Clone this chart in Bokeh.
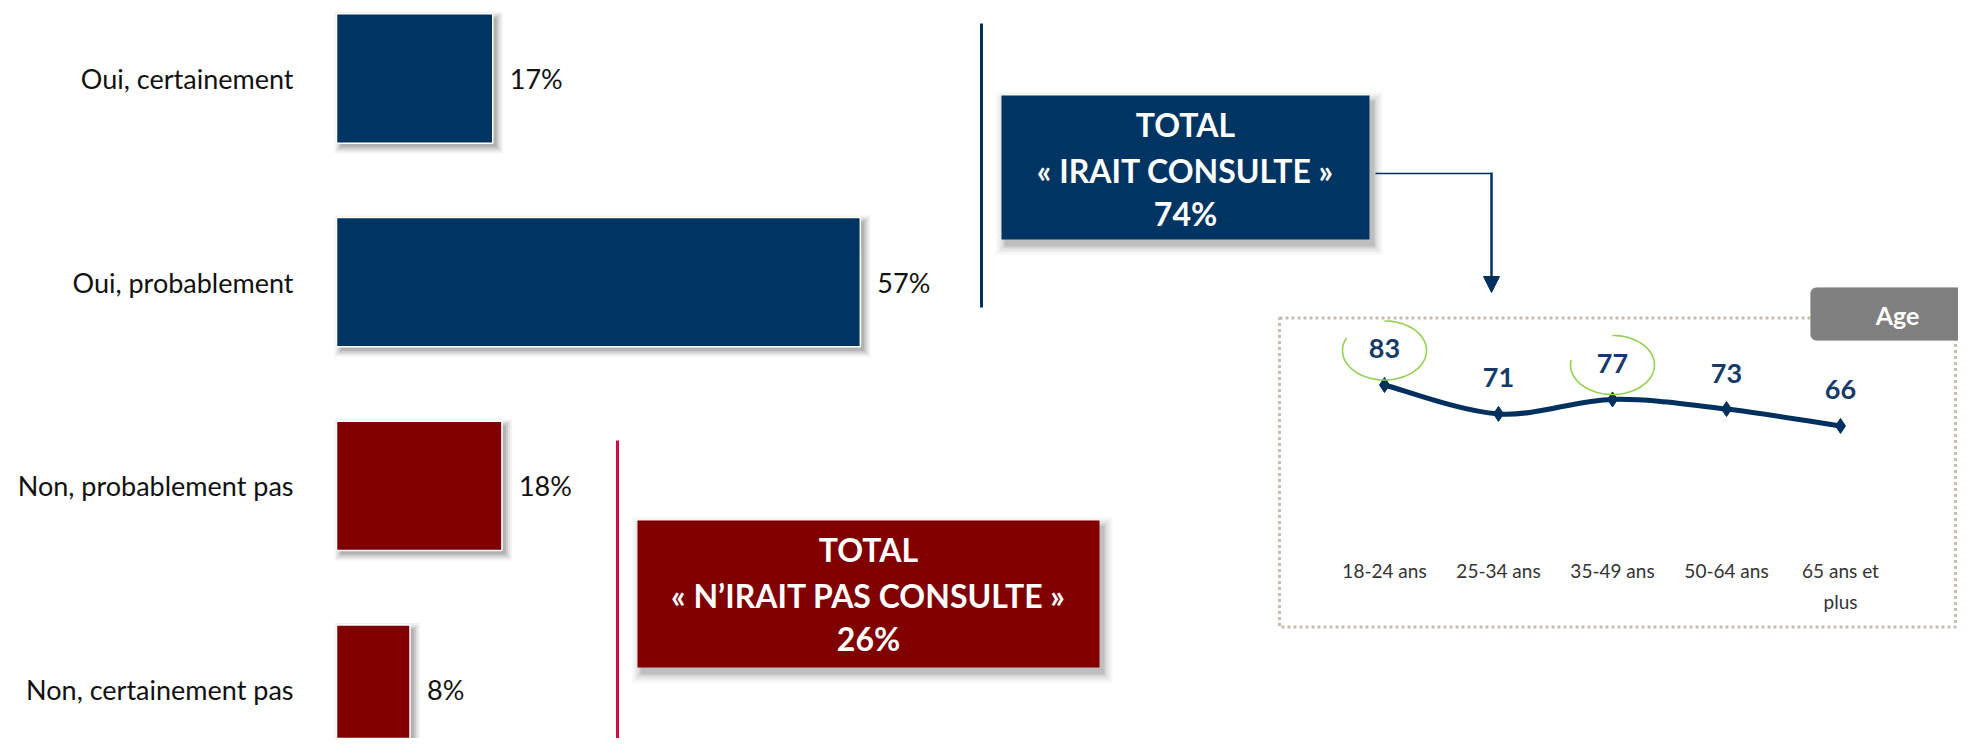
import numpy as np
from bokeh.plotting import figure
from bokeh.models import Range1d, ColumnDataSource, Arrow, NormalHead, BoxAnnotation, Label
from bokeh.core.properties import value
from bokeh.embed import file_html
from bokeh.resources import INLINE

# ---------------- data ----------------
categories = ["Oui, certainement", "Oui, probablement", "Non, probablement pas", "Non, certainement pas"]
shares = [17, 57, 18, 8]
groups = ["oui", "oui", "non", "non"]
total_titles = {"oui": "« IRAIT CONSULTE »", "non": "« N’IRAIT PAS CONSULTE »"}
age_groups = ["18-24 ans", "25-34 ans", "35-49 ans", "50-64 ans", "65 ans et\nplus"]
age_values = [83, 71, 77, 73, 66]
age_highlight = [0, 2]
age_title = "Age"

# ---------------- layout / style ----------------
W, H = 1958, 738
OFF = 0  # main ranges are picture-pixel coordinates
FONT = "Lato"
NAVY = "#003462"
MAROON = "#800000"
CRIMSON = "#C8103C"
LINE_NAVY = "#00305E"
GREEN = "#92D050"
col = {"oui": NAVY, "non": MAROON}

PX_PER_PCT = 9.19
BAR_X0 = 336
PX_PER_CAT = 203.7
CAT_Y0 = 78
BAR_H = 0.635
AGE_X0 = 1384
PX_PER_AGE = 114
AGE_Y_ZERO = 584.5
PX_PER_AGE_UNIT = 2.41

p = figure(width=W, height=H, output_backend="svg", toolbar_location=None,
           x_range=Range1d(OFF, OFF + W), y_range=Range1d(OFF + H, OFF),
           min_border=0, x_axis_location=None, y_axis_location=None)
p.grid.visible = False
p.outline_line_color = None
p.background_fill_color = "white"
p.border_fill_color = "white"

p.extra_x_ranges = {
    "pct": Range1d((OFF - BAR_X0) / PX_PER_PCT, (OFF + W - BAR_X0) / PX_PER_PCT),
    "age_x": Range1d((OFF - AGE_X0) / PX_PER_AGE, (OFF + W - AGE_X0) / PX_PER_AGE),
}
p.extra_y_ranges = {
    "cat": Range1d((OFF + H - CAT_Y0) / PX_PER_CAT, (OFF - CAT_Y0) / PX_PER_CAT),
    "age_y": Range1d(-(OFF + H - AGE_Y_ZERO) / PX_PER_AGE_UNIT, (AGE_Y_ZERO - OFF) / PX_PER_AGE_UNIT),
}

# ---------------- bar chart ----------------
idx = np.arange(len(categories))
vals = np.array(shares, dtype=float)
colors = [col[g] for g in groups]

# soft shadow layers
for e, a in [(6, 0.05), (4, 0.07), (2, 0.09), (0, 0.12)]:
    dx = 4 / PX_PER_PCT
    dy = 4 / PX_PER_CAT
    p.hbar(y=idx + dy, left=dx - e / PX_PER_PCT, right=vals + dx + e / PX_PER_PCT,
           height=BAR_H + 2 * e / PX_PER_CAT, fill_color="black", fill_alpha=a,
           line_color=None, x_range_name="pct", y_range_name="cat")

bsrc = ColumnDataSource(dict(y=idx, right=vals, color=colors,
                             lab=[f"{v}%" for v in shares], cat=categories,
                             labx=vals + 17 / PX_PER_PCT))
p.hbar(y="y", left=0, right="right", height=BAR_H, fill_color="color", line_color="white",
       line_width=1.5, source=bsrc, x_range_name="pct", y_range_name="cat")
p.text(x="labx", y="y", text="lab", source=bsrc, x_range_name="pct", y_range_name="cat",
       text_font=value(FONT), text_font_size="27px", text_color="#111111",
       text_align="left", text_baseline="middle")
p.text(x=293, y="y", text="cat", source=bsrc, y_range_name="cat",
       text_font=value(FONT), text_font_size="27px", text_color="#111111",
       text_align="right", text_baseline="middle")

# ---------------- brackets & total boxes ----------------
p.line([981, 981], [23, 307], line_color=LINE_NAVY, line_width=3)
p.line([617, 617], [440, 748], line_color=CRIMSON, line_width=3)

boxes = {"oui": (1001, 1369, 95, 239), "non": (637, 1099, 520, 667)}
for g, (l, r, t, b) in boxes.items():
    for e, a in [(8, 0.04), (5, 0.06), (2, 0.08), (0, 0.1)]:
        p.quad(left=l + 3 - e, right=r + 5 + e, top=t + 5 - e, bottom=b + 7 + e,
               fill_color="black", fill_alpha=a, line_color=None)
    p.quad(left=l, right=r, top=t, bottom=b, fill_color=col[g], line_color=None)
    total = sum(v for v, gg in zip(shares, groups) if gg == g)
    cx = (l + r) / 2
    p.text(x=[cx] * 3, y=[t + 28.5, t + 74.5, t + 117.5],
           text=["TOTAL", total_titles[g], f"{total}%"],
           text_font=value(FONT), text_font_style="bold", text_font_size="32px",
           text_color="white", text_align="center", text_baseline="middle")

# connector arrow
p.line([1375, 1491], [173, 173], line_color=LINE_NAVY, line_width=1.5)
p.add_layout(Arrow(end=NormalHead(size=16, fill_color=LINE_NAVY, line_color=LINE_NAVY),
                   x_start=1491, y_start=172, x_end=1491, y_end=292,
                   line_color=LINE_NAVY, line_width=2.5))

# ---------------- age panel ----------------
p.quad(left=1279, right=1955, top=317.5, bottom=626.5, fill_color=None,
       line_color="#C9BDB1", line_width=3, line_dash="3 3")
p.add_layout(BoxAnnotation(left=1810, right=1995, top=287, bottom=340,
                           fill_color="#808080", fill_alpha=1.0, line_color="#9a9a9a",
                           line_width=1, border_radius=6))
p.add_layout(Label(x=1897, y=314, text=age_title, text_font=FONT, text_font_style="bold",
                   text_font_size="25px", text_color="white", text_align="center",
                   text_baseline="middle"))

ax = np.arange(len(age_values), dtype=float)
ay = np.array(age_values, dtype=float)
n = len(ay)
seg = dict(x0=[], y0=[], x1=[], y1=[], cx0=[], cy0=[], cx1=[], cy1=[])
for i in range(n - 1):
    im1, ip2 = max(i - 1, 0), min(i + 2, n - 1)
    seg["x0"].append(ax[i]); seg["y0"].append(ay[i])
    seg["x1"].append(ax[i + 1]); seg["y1"].append(ay[i + 1])
    seg["cx0"].append(ax[i] + (ax[i + 1] - ax[im1]) / 6)
    seg["cy0"].append(ay[i] + (ay[i + 1] - ay[im1]) / 6)
    seg["cx1"].append(ax[i + 1] - (ax[ip2] - ax[i]) / 6)
    seg["cy1"].append(ay[i + 1] - (ay[ip2] - ay[i]) / 6)
p.bezier(source=ColumnDataSource(seg), x0="x0", y0="y0", x1="x1", y1="y1",
         cx0="cx0", cy0="cy0", cx1="cx1", cy1="cy1", line_color=LINE_NAVY,
         line_width=5, x_range_name="age_x", y_range_name="age_y")
p.scatter(ax, ay, marker="diamond", size=15, fill_color=LINE_NAVY, line_color=LINE_NAVY,
          x_range_name="age_x", y_range_name="age_y")

lab_dy = 36 / PX_PER_AGE_UNIT
p.text(x=ax, y=ay + lab_dy, text=[str(v) for v in age_values],
       text_font=value(FONT), text_font_style="bold", text_font_size="27px",
       text_color="#163A68", text_align="center", text_baseline="middle",
       x_range_name="age_x", y_range_name="age_y")

# highlight circles (open ellipses around the label)
rx = 42 / PX_PER_AGE
ry = 29.5 / PX_PER_AGE_UNIT
cdy = 34.5 / PX_PER_AGE_UNIT
gap_start = {0: 155, 2: 170}
xs_c, ys_c = [], []
for k in age_highlight:
    th = np.radians(np.linspace(gap_start[k], 450, 90))
    xs_c.append(list(ax[k] + rx * np.cos(th)))
    ys_c.append(list(ay[k] + cdy + ry * np.sin(th)))
p.multi_line(xs_c, ys_c, line_color=GREEN, line_width=1.6,
             x_range_name="age_x", y_range_name="age_y")

p.text(x=ax, y=[558] * n, text=age_groups, x_range_name="age_x",
       text_font=value(FONT), text_font_size="19px", text_color="#333333",
       text_align="center", text_baseline="top", text_line_height=1.35)

open("out.html", "w").write(file_html(p, INLINE))
